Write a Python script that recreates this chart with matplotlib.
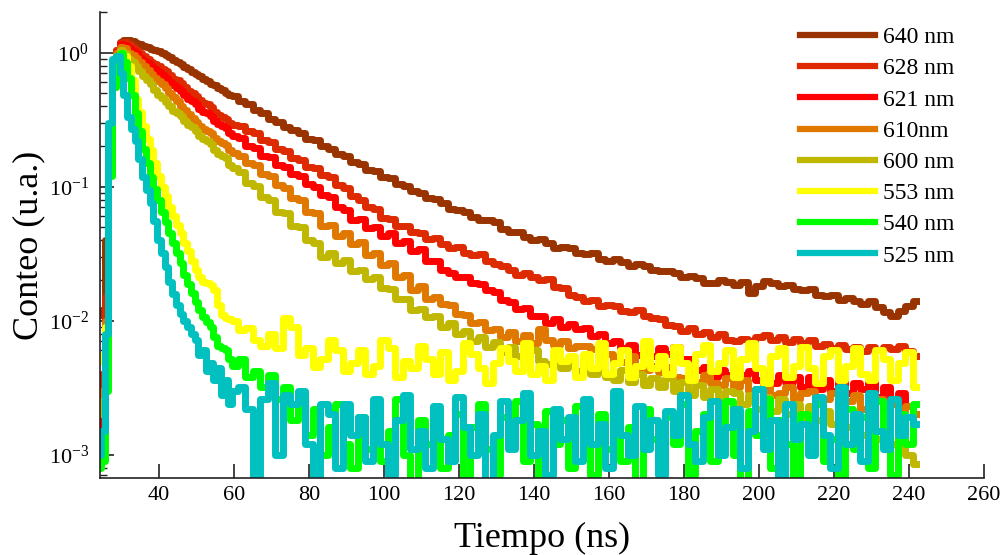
import numpy as np
import matplotlib
matplotlib.use('Agg')
import matplotlib.pyplot as plt
from matplotlib.ticker import FuncFormatter, LogLocator

plt.rcParams['font.family'] = 'Liberation Serif'
plt.rcParams['mathtext.fontset'] = 'custom'
plt.rcParams['mathtext.rm'] = 'Liberation Serif'
plt.rcParams['mathtext.default'] = 'regular'

# time grid (ns): 1 ns up to 60 ns, 2 ns afterwards
tiempo = np.concatenate([np.arange(24, 61), np.arange(62, 243, 2)])

# counts, in thousandths of the normalised peak
conteo_640 = [11, 12, 40, 250, 700, 1050, 1200, 1250, 1240,
              1210, 1180, 1150, 1125, 1100, 1070, 1050, 1020, 990, 960,
              920, 880, 855, 815, 780, 750, 720, 690, 668, 640,
              612, 585, 572, 548, 522, 502, 486, 470,
              432, 410, 372, 352, 320, 305,
              280, 262, 250, 228, 221, 202, 192, 176, 168, 153,
              147, 134, 131, 118, 116, 105, 101, 92, 90, 82,
              81, 75, 68, 67, 65, 59, 56, 56, 54, 48,
              46, 46, 42, 40, 40.5, 38, 35, 35.5, 34.5, 32,
              31.5, 32, 29, 28, 28.8, 27.5, 25.5, 26.5, 25.5, 24,
              23.5, 23.5, 22.8, 21, 21.5, 20.8, 19, 19.2, 20, 19.5,
              18.5, 19.5, 16, 18, 19.8, 19.2, 18.2, 18.5, 17.2, 16.8,
              17.2, 15.5, 15.2, 15.6, 14.2, 14.8, 14, 13.2, 14, 12.6,
              11.5, 10.8, 11.8, 12.8, 14]
conteo_628 = [3, 4, 15, 200, 650, 1050, 1180, 1200, 1150,
              1100, 1050, 985, 935, 892, 850, 822, 790, 758, 730,
              682, 640, 622, 595, 552, 520, 498, 472, 442, 420,
              410, 395, 362, 342, 332, 320, 300, 290,
              283, 258, 250, 224, 215, 190,
              184, 162, 158, 141, 138, 122, 118, 102, 97, 85,
              80, 70, 68, 58, 57.5, 51, 51, 45.5, 45, 40.5,
              41, 37, 35, 35.5, 32, 31, 31.5, 28, 26.5, 25.5,
              24, 21.8, 22.5, 21, 20, 20.5, 17.8, 17.5, 15.5, 15,
              14, 14.2, 12.8, 13, 12.8, 11.8, 11.5, 12, 10.8, 10.5,
              10.3, 9.2, 9.1, 8.4, 8.8, 8.0, 8.2, 7.6, 7.9, 7.2,
              7.0, 7.3, 7.0, 7.6, 7.8, 7.1, 7.5, 6.9, 7.3, 6.8,
              7.1, 6.5, 6.7, 6.2, 6.6, 6.1, 6.4, 5.9, 6.3, 6.0,
              6.4, 6.1, 6.5, 5.9, 5.4]
conteo_621 = [1.5, 2, 10, 150, 600, 1000, 1150, 1130, 1080,
              1030, 985, 918, 865, 832, 800, 748, 710, 682, 650,
              602, 570, 548, 518, 480, 452, 432, 410, 382, 362,
              352, 336, 308, 292, 285, 274, 252, 240,
              229, 202, 194, 170, 165, 146,
              141, 124, 119, 104, 100, 87, 83, 70, 67, 56,
              57, 49, 50, 43, 45, 38, 39, 33, 34, 28,
              28, 24, 22.8, 21, 21.2, 19, 18.8, 17, 16.2, 14.2,
              13.8, 12.2, 12.4, 10.8, 10.9, 9.6, 10.2, 9.0, 9.4, 8.6,
              8.8, 7.7, 7.9, 6.8, 7.0, 6.2, 6.6, 5.5, 5.9, 5.4,
              6.2, 5.6, 6.3, 5.2, 5.2, 4.3, 4.5, 3.8, 4.3, 3.9,
              4.4, 3.9, 4.2, 3.6, 4.1, 3.4, 3.9, 3.5, 3.8, 3.2,
              3.8, 3.1, 3.6, 3.0, 3.7, 2.9, 3.4, 3.1, 3.5, 2.7,
              3.2, 2.6, 2.9, 2.3, 2.0]
conteo_610 = [2.5, 3, 10, 150, 600, 1000, 1100, 1080, 1000,
              960, 915, 848, 790, 742, 695, 648, 612, 578, 540,
              498, 465, 435, 402, 370, 345, 327, 305, 283, 268,
              260, 249, 230, 218, 212, 204, 188, 178,
              170, 149, 145, 125, 119, 102,
              97, 82, 79, 65, 63, 51, 52, 43, 45, 37,
              38.5, 31, 32, 26, 27, 21, 22, 17, 18, 14.5,
              15, 13.2, 13.0, 11.2, 11.0, 9.6, 9.8, 8.5, 8.6, 7.6,
              8.2, 7.0, 7.8, 6.8, 8.6, 7.2, 6.6, 7.0, 6.2, 6.5,
              6.5, 6.1, 5.3, 5.6, 5.0, 4.9, 5.4, 4.5, 4.3, 4.6,
              4.1, 4.5, 3.8, 3.7, 4.2, 3.5, 3.9, 3.4, 3.3, 3.7,
              3.2, 3.6, 3.0, 3.1, 3.4, 2.8, 2.9, 3.2, 2.6, 2.9,
              3.0, 2.5, 2.6, 2.9, 2.3, 2.5, 2.8, 2.2, 2.4, 2.6,
              2.2, 2.4, 2.1, 2.3, 2.0]
conteo_600 = [2, 2.5, 8, 130, 550, 950, 1050, 1000, 900,
              850, 800, 732, 672, 628, 580, 528, 485, 460, 430,
              396, 368, 354, 335, 308, 288, 276, 260, 240, 226,
              219, 208, 188, 174, 169, 162, 146, 137,
              128, 106, 101, 84, 80, 65,
              63, 51, 50, 40, 38, 30, 32, 27, 28.5, 23.5,
              24, 20.5, 21, 17.5, 17.2, 14.5, 14.5, 12, 12.2, 10.6,
              10.8, 9.0, 9.6, 8.0, 8.4, 7.0, 7.6, 6.4, 6.9, 5.8,
              6.4, 5.4, 5.0, 6.0, 5.0, 4.7, 5.4, 4.4, 4.9, 4.2,
              4.8, 4.0, 4.6, 3.8, 3.6, 4.3, 3.5, 4.0, 3.3, 3.7,
              3.2, 3.7, 3.0, 3.5, 2.8, 3.3, 2.7, 3.1, 2.5, 3.0,
              2.9, 2.4, 2.8, 2.2, 2.7, 2.1, 2.6, 2.0, 2.4, 1.9,
              2.3, 1.8, 2.1, 1.7, 2.0, 1.6, 1.9, 1.4, 1.7, 1.3,
              1.5, 1.2, 1.4, 1.0, 0.85]
conteo_553 = [5, 5.5, 9, 150, 600, 950, 1000, 950, 800,
              620, 450, 360, 285, 225, 186, 150, 120, 100, 85,
              70, 60, 52, 45, 38, 33, 28, 24, 21, 19.5,
              19, 18.5, 17, 13, 11, 10.5, 10.2, 10,
              8.5, 8.8, 7.2, 6.5, 8, 6.2,
              10.5, 9.0, 5.5, 6.2, 4.5, 5.2, 7.2, 6.0, 4.2, 4.8,
              6.0, 4.0, 4.6, 7.2, 6.2, 3.8, 5.0, 4.4, 6.5, 5.2,
              4.0, 5.8, 3.6, 4.2, 6.8, 5.6, 4.4, 3.4, 4.8, 6.2,
              5.0, 4.2, 6.8, 4.0, 4.6, 3.6, 6.0, 5.0, 5.4, 3.8,
              5.6, 4.4, 6.8, 4.0, 4.8, 6.0, 3.8, 4.6, 7.0, 4.4,
              5.4, 4.0, 6.4, 4.8, 3.6, 5.6, 6.6, 4.2, 4.8, 6.0,
              3.8, 5.2, 6.8, 4.4, 3.4, 5.4, 6.2, 3.8, 4.6, 6.4,
              4.4, 3.4, 5.4, 6.0, 3.6, 4.6, 6.2, 4.0, 3.6, 6.0,
              5.2, 3.6, 4.8, 5.8, 3.2]
conteo_540 = [0.8, 0.9, 3, 120, 550, 950, 1000, 850, 650,
              480, 355, 260, 190, 150, 117, 96, 79, 65, 54,
              45, 38, 32, 27, 22, 18.6, 16, 13.8, 12, 10.7,
              9.8, 9.0, 7.5, 6.5, 6.2, 6.0, 5.2, 4.6,
              5.2, 3.8, 4.2, 3.2, 3.9, 2.6,
              3.2, 1.8, 2.6, 1.4, 2.2, 1.0, 1.6, 2.4, 1.2, 0.8,
              1.9, 1.1, 2.3, 0.9, 1.5, 2.6, 1.0, 0.6, 1.8, 1.2,
              2.2, 0.8, 1.4, 2.0, 0.55, 1.6, 2.4, 1.1, 0.7, 1.9,
              1.3, 2.5, 0.9, 1.7, 0.6, 2.1, 1.2, 1.8, 0.8, 2.3,
              1.5, 0.7, 2.0, 1.1, 2.6, 0.9, 1.6, 0.5, 2.2, 1.3,
              0.8, 1.9, 1.2, 2.4, 0.7, 1.5, 2.0, 0.9, 1.7, 2.5,
              1.0, 0.6, 2.1, 1.4, 2.6, 0.8, 1.8, 1.2, 0.55, 2.0,
              1.6, 2.4, 0.9, 1.3, 0.6, 2.2, 1.1, 1.9, 0.8, 2.5,
              1.4, 0.7, 2.0, 1.2, 2.4]
conteo_525 = [1.0, 1.5, 8, 300, 900, 950, 700, 480, 330,
              270, 220, 160, 117, 95, 76, 55, 40, 32, 25,
              19.5, 15.8, 13, 11.2, 10, 8.9, 8.0, 7.1, 5.5, 6.0,
              4.2, 4.8, 3.6, 4.4, 2.8, 3.6, 2.4, 3.0,
              3.2, 2.2, 0.5, 2.6, 3.4, 1.0,
              2.8, 2.4, 3.0, 1.2, 0.6, 2.4, 2.0, 0.8, 2.4, 1.4,
              1.9, 0.9, 2.6, 1.2, 0.7, 1.8, 2.8, 1.1, 1.5, 0.8,
              2.3, 1.3, 0.9, 2.7, 1.6, 1.0, 2.0, 0.6, 1.4, 2.5,
              1.1, 1.8, 2.9, 1.0, 1.5, 0.7, 2.2, 1.3, 1.9, 0.9,
              2.6, 1.2, 1.7, 0.8, 3.0, 1.4, 1.0, 2.3, 1.1, 1.8,
              0.7, 2.1, 1.4, 2.8, 1.2, 0.9, 1.9, 2.5, 1.0, 1.6,
              2.2, 0.8, 1.5, 3.1, 1.1, 1.8, 0.6, 2.4, 1.3, 1.7,
              1.0, 2.7, 1.4, 0.8, 3.2, 1.2, 2.0, 0.9, 2.9, 1.5,
              1.1, 2.6, 1.4, 1.9, 1.7]

etiquetas = ['640 nm', '628 nm', '621 nm', '610nm', '600 nm', '553 nm', '540 nm', '525 nm']
series = [conteo_640, conteo_628, conteo_621, conteo_610,
          conteo_600, conteo_553, conteo_540, conteo_525]
colores = ['#993300', '#dd2a00', '#ff0000', '#e07800',
           '#c0b800', '#ffff00', '#00ff00', '#00c0c0']

fig = plt.figure(figsize=(10, 5.55), dpi=100)
ax = fig.add_axes([0.100, 0.139, 0.884, 0.839])

for label, valores, color in zip(etiquetas, series, colores):
    ax.plot(tiempo, np.array(valores) / 1000.0, color=color, lw=5,
            drawstyle='steps-mid', label=label)

ax.set_yscale('log')
ax.set_xlim(24.3, 260)
ax.set_ylim(6.7e-4, 2.0)
ax.set_xticks(range(40, 261, 20))
ax.yaxis.set_major_locator(LogLocator(base=10, numticks=10))
ax.yaxis.set_major_formatter(FuncFormatter(lambda v, p: r'$10^{%d}$' % int(round(np.log10(v)))))

for side in ['top', 'right']:
    ax.spines[side].set_visible(False)
for side in ['left', 'bottom']:
    ax.spines[side].set_linewidth(1.2)
    ax.spines[side].set_color('#222222')

ax.tick_params(which='major', direction='in', length=10, width=1.2, labelsize=16, color='#222222')
ax.tick_params(axis='x', pad=6)
ax.tick_params(axis='y', pad=8)
ax.tick_params(which='minor', direction='in', length=5, width=1.0, color='#222222')

ax.set_xlabel('Tiempo (ns)', fontsize=26)
ax.set_ylabel('Conteo (u.a.)', fontsize=26)
ax.xaxis.set_label_coords(0.5, -0.095)
ax.yaxis.set_label_coords(-0.0615, 0.5)

leg = ax.legend(loc='upper left', bbox_to_anchor=(0.800, 0.952), bbox_transform=fig.transFigure,
                frameon=False, fontsize=17, handlelength=3.17, handletextpad=0.34,
                labelspacing=0.41, borderpad=0, borderaxespad=0)
for h in leg.get_lines():
    h.set_linewidth(4.5)

fig.savefig('out.png', dpi=100)
